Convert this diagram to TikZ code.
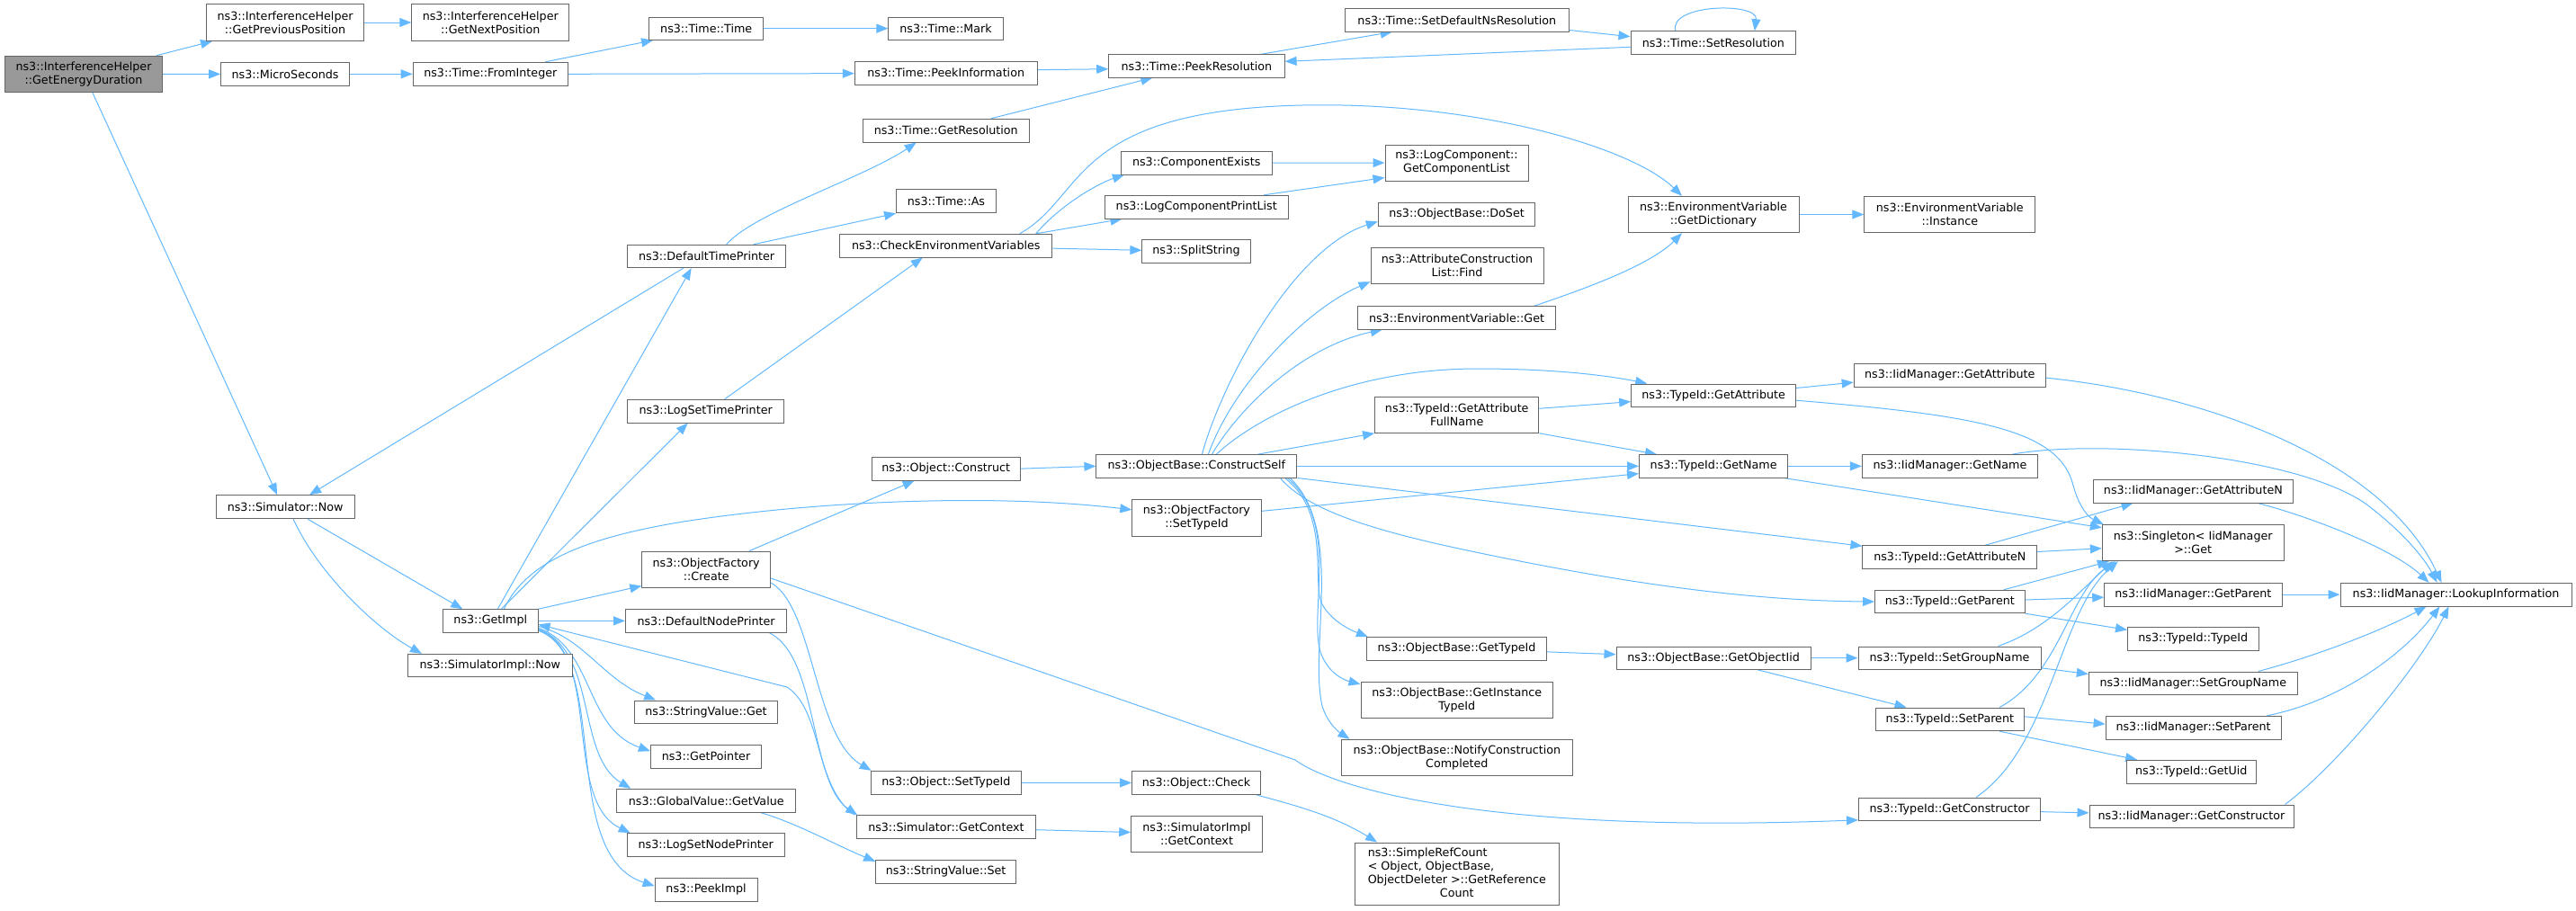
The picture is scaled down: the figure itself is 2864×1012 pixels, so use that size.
\documentclass[tikz,border=0pt]{standalone}
\usepackage{fontspec}
\setmainfont{DejaVu Sans}
\usetikzlibrary{arrows.meta,calc}
\definecolor{edgeblue}{HTML}{63B8FF}
\definecolor{bordergrey}{HTML}{666666}
\definecolor{fillgrey}{HTML}{999999}
\pgfdeclarelayer{bg}
\pgfsetlayers{bg,main}
\newcommand\mynode[6]{\node[box, minimum width={(#3-#2)*1pt}, minimum height={(#5-#4)*1pt}] (#1) at ({(#2+#3)/2},{(#4+#5)/2}) {#6};}
\begin{document}
\begin{tikzpicture}[x=1pt,y=-1pt,
  box/.style={draw=bordergrey, fill=white, line width=1pt, inner sep=0pt, align=center, font=\fontsize{12.7}{15}\selectfont},
  callarrow/.style={draw=edgeblue, line width=1pt, -{Triangle[length=13pt,width=10pt]}}]
\useasboundingbox (0,0) rectangle (2864,1012);
% nodes
\node[box, fill=fillgrey, minimum width=175pt, minimum height=40.4pt] (ged) at (93,82.5) {ns3::InterferenceHelper\\::GetEnergyDuration};
\mynode{gpp}{229.6}{404.6}{4.7}{45.3}{ns3::InterferenceHelper\\::GetPreviousPosition}
\mynode{gnp}{457.8}{632.8}{4.7}{45.3}{ns3::InterferenceHelper\\::GetNextPosition}
\mynode{micro}{245.7}{388.5}{69.3}{95.3}{ns3::MicroSeconds}
\mynode{fromint}{459.2}{631.4}{69.3}{95.3}{ns3::Time::FromInteger}
\mynode{ttime}{721.6}{848.8}{19}{44.3}{ns3::Time::Time}
\mynode{tmark}{987.9}{1115.1}{19}{44.3}{ns3::Time::Mark}
\mynode{peekinfo}{950.3}{1153.2}{68.3}{94}{ns3::Time::PeekInformation}
\mynode{peekres}{1232.7}{1428.1}{60.7}{86}{ns3::Time::PeekResolution}
\mynode{setdef}{1495.5}{1744.1}{9.7}{35}{ns3::Time::SetDefaultNsResolution}
\mynode{setres}{1813}{1996.7}{34.7}{60.7}{ns3::Time::SetResolution}
\mynode{getres}{959}{1144.5}{132.3}{158}{ns3::Time::GetResolution}
\mynode{tas}{996.6}{1107.3}{210.7}{236.7}{ns3::Time::As}
\mynode{dtp}{697.7}{873.6}{272.3}{297.7}{ns3::DefaultTimePrinter}
\mynode{cev}{933.7}{1169.8}{260.3}{286}{ns3::CheckEnvironmentVariables}
\mynode{compex}{1246.4}{1414}{168.3}{194}{ns3::ComponentExists}
\mynode{lcpl}{1228}{1432.5}{217.3}{243}{ns3::LogComponentPrintList}
\mynode{split}{1269.9}{1390.2}{266.3}{292.3}{ns3::SplitString}
\mynode{gcl}{1540}{1699}{161}{201}{ns3::LogComponent::\\GetComponentList}
\mynode{gdict}{1810}{2000}{218.3}{258.7}{ns3::EnvironmentVariable\\::GetDictionary}
\mynode{inst}{2072.8}{2262.8}{218.3}{258.7}{ns3::EnvironmentVariable\\::Instance}
\mynode{doset}{1532.3}{1706.8}{225.7}{251}{ns3::ObjectBase::DoSet}
\mynode{acfind}{1524}{1716}{275.7}{315.7}{ns3::AttributeConstruction\\List::Find}
\mynode{envget}{1509.3}{1729.7}{340.7}{366}{ns3::EnvironmentVariable::Get}
\mynode{lstp}{697.7}{871.7}{444.3}{470}{ns3::LogSetTimePrinter}
\mynode{simnow}{240.2}{394}{550.7}{576.7}{ns3::Simulator::Now}
\mynode{oconstruct}{969}{1134.4}{508.3}{534}{ns3::Object::Construct}
\mynode{cself}{1218.9}{1441.8}{505.7}{531}{ns3::ObjectBase::ConstructSelf}
\mynode{ofsettid}{1258.8}{1402.1}{555.7}{596}{ns3::ObjectFactory\\::SetTypeId}
\mynode{ofcreate}{713.8}{856.6}{613}{653}{ns3::ObjectFactory\\::Create}
\mynode{gafn}{1528.6}{1710.9}{441}{481.3}{ns3::TypeId::GetAttribute\\FullName}
\mynode{tgattr}{1813.7}{1996.5}{427}{452.7}{ns3::TypeId::GetAttribute}
\mynode{igattr}{2061.2}{2274.4}{404.3}{430}{ns3::IidManager::GetAttribute}
\mynode{tgname}{1822.5}{1987.8}{505.7}{531}{ns3::TypeId::GetName}
\mynode{igname}{2070.4}{2265.6}{505.7}{531}{ns3::IidManager::GetName}
\mynode{igattrn}{2327}{2549.7}{533.7}{559}{ns3::IidManager::GetAttributeN}
\mynode{single}{2337.3}{2539}{583.7}{623.7}{ns3::Singleton< IidManager\\>::Get}
\mynode{tgattrn}{2070.9}{2264.7}{606.7}{632.3}{ns3::TypeId::GetAttributeN}
\mynode{tgparent}{2084.5}{2251.1}{656.3}{681.7}{ns3::TypeId::GetParent}
\mynode{igparent}{2339.7}{2537}{648.3}{674}{ns3::IidManager::GetParent}
\mynode{lookup}{2602}{2859}{648.3}{674}{ns3::IidManager::LookupInformation}
\mynode{ttypeid}{2365.5}{2511}{697.7}{723}{ns3::TypeId::TypeId}
\mynode{getimpl}{492.5}{598.1}{677.7}{703}{ns3::GetImpl}
\mynode{simimplnow}{453.5}{636.2}{727.3}{752.7}{ns3::SimulatorImpl::Now}
\mynode{dnp}{695.5}{874.6}{677.7}{703}{ns3::DefaultNodePrinter}
\mynode{svget}{705.6}{864.5}{779}{804.7}{ns3::StringValue::Get}
\mynode{getptr}{723.5}{846.5}{828.3}{854}{ns3::GetPointer}
\mynode{gvget}{685.8}{884.7}{877.3}{903.3}{ns3::GlobalValue::GetValue}
\mynode{lsnp}{697.3}{872.3}{926.7}{952.7}{ns3::LogSetNodePrinter}
\mynode{peekimpl}{728.1}{842}{976.3}{1002}{ns3::PeekImpl}
\mynode{osettid}{968.2}{1135.6}{857.3}{883.3}{ns3::Object::SetTypeId}
\mynode{simgctx}{952.6}{1151.2}{906.7}{932.7}{ns3::Simulator::GetContext}
\mynode{svset}{973.7}{1129.6}{956.3}{982}{ns3::StringValue::Set}
\mynode{ocheck}{1258.6}{1401.4}{857.7}{883.3}{ns3::Object::Check}
\mynode{simimplgctx}{1257.7}{1403.3}{907.3}{947.7}{ns3::SimulatorImpl\\::GetContext}
\mynode{src}{1506.6}{1733}{937}{1006.7}{\begin{tabular}{@{}l@{}}ns3::SimpleRefCount\\< Object, ObjectBase,\\ObjectDeleter >::GetReference\\\multicolumn{1}{@{}c@{}}{Count}\end{tabular}}
\mynode{obgettid}{1519.4}{1719.7}{708.7}{734}{ns3::ObjectBase::GetTypeId}
\mynode{obgitid}{1513}{1726.5}{758.3}{798.7}{ns3::ObjectBase::GetInstance\\TypeId}
\mynode{obncc}{1491}{1748.6}{822.3}{862.3}{ns3::ObjectBase::NotifyConstruction\\Completed}
\mynode{obgoid}{1797}{2013.3}{719}{744.3}{ns3::ObjectBase::GetObjectIid}
\mynode{tsgn}{2066}{2269}{719}{744.3}{ns3::TypeId::SetGroupName}
\mynode{tsetparent}{2085}{2250.7}{787}{812.7}{ns3::TypeId::SetParent}
\mynode{tgctor}{2066.5}{2268.6}{887}{912.3}{ns3::TypeId::GetConstructor}
\mynode{isgn}{2322.3}{2554.3}{747}{772.7}{ns3::IidManager::SetGroupName}
\mynode{isetparent}{2341.1}{2536}{796.3}{822}{ns3::IidManager::SetParent}
\mynode{tgetuid}{2364.6}{2508}{845.3}{871}{ns3::TypeId::GetUid}
\mynode{igctor}{2323}{2550}{895}{920.7}{ns3::IidManager::GetConstructor}
% edges
\begin{pgfonlayer}{bg}
\draw[callarrow] (ged) -- (gpp);
\draw[callarrow] (ged) -- (micro);
\draw[callarrow] ($(ged.south)+(10,0)$) -- ($(simnow.north)+(-9,0)$);
\draw[callarrow] (gpp) -- (gnp);
\draw[callarrow] (micro) -- (fromint);
\draw[callarrow] ($(fromint.north)+(61,0)$) -- ($(ttime.south west)+(5,0)$);
\draw[callarrow] (fromint.east) -- ($(peekinfo.west)+(0,0.5)$);
\draw[callarrow] (ttime) -- (tmark);
\draw[callarrow] ($(peekinfo.east)+(0,-3.5)$) -- ($(peekres.west)+(0,3.4)$);
\draw[callarrow] ($(peekres.north)+(72,0)$) -- ($(setdef.south)+(-72,0)$);
\draw[callarrow] ($(setdef.south east)+(0,-2)$) -- ($(setres.west)+(0,-7)$);
\draw[callarrow] ($(setres.west)+(0,4.6)$) -- ($(peekres.east)+(0,-5)$);
\draw[callarrow] ($(setres.north)+(-42,0)$) .. controls ($(setres.north)+(-50,-30)$) and ($(setres.north)+(50,-32)$) .. ($(setres.north)+(46,0)$);
\draw[callarrow] ($(getres.north)+(50,0)$) -- ($(peekres.south)+(-49,0)$);
\draw[callarrow] ($(dtp.north)+(22,0)$) .. controls +(30,-35) and +(-60,40) .. ($(getres.south)+(-33,0)$);
\draw[callarrow] ($(dtp.north)+(52,0)$) -- (tas.south west);
\draw[callarrow] ($(dtp.south)+(-26,0)$) -- ($(simnow.north)+(27,0)$);
\draw[callarrow] ($(getimpl.north)+(8,0)$) -- ($(dtp.south)+(-17,0)$);
\draw[callarrow] ($(getimpl.north)+(12,0)$) -- ($(lstp.south)+(-20,0)$);
\draw[callarrow] ($(lstp.north)+(21,0)$) -- ($(cev.south)+(-26,0)$);
\draw[callarrow] ($(cev.north)+(100,0)$) .. controls +(30,-35) and +(-25,8) .. ($(compex.south west)+(4,0)$);
\draw[callarrow] ($(cev.north)+(100,0)$) -- ($(lcpl.south west)+(20,0)$);
\draw[callarrow] ($(cev.east)+(0,3)$) -- ($(split.west)+(0,-1)$);
\draw[callarrow] ($(cev.north)+(82,0)$) .. controls (1205,220) and (1190,130) .. (1420,118) .. controls (1620,108) and (1810,160) .. ($(gdict.north)+(-35,0)$);
\draw[callarrow] (compex) -- (gcl);
\draw[callarrow] ($(lcpl.north)+(75,0)$) -- ($(gcl.south west)+(0,-4)$);
\draw[callarrow] (gdict) -- (inst);
\draw[callarrow] ($(envget.north)+(86,0)$) .. controls +(60,-20) and +(-35,35) .. ($(gdict.south)+(-35,0)$);
\draw[callarrow] ($(ofsettid.east)+(0,-7.5)$) -- ($(tgname.west)+(0,8.3)$);
\draw[callarrow] (oconstruct.east) -- (cself.west);
\draw[callarrow] ($(ofcreate.north)+(48,0)$) -- ($(oconstruct.south)+(-35,0)$);
\draw[callarrow] (getimpl.north east) -- ($(ofcreate.south west)+(0,-2)$);
\draw[callarrow] ($(getimpl.north)+(15,0)$) .. controls (585,625) and (650,598) .. (760,580) .. controls (900,558) and (1100,548) .. ($(ofsettid.west)+(0,-9)$);
\draw[callarrow] (getimpl) -- (dnp);
\draw[callarrow] ($(getimpl.east)+(0,6)$) .. controls (650,710) and (670,755) .. ($(svget.north west)+(24,0)$);
\draw[callarrow] ($(getimpl.east)+(0,8)$) .. controls (660,720) and (650,810) .. ($(getptr.west)+(0,-6)$);
\draw[callarrow] ($(getimpl.east)+(0,9)$) .. controls (665,725) and (640,840) .. ($(gvget.north west)+(16,0)$);
\draw[callarrow] ($(getimpl.east)+(0,10)$) .. controls (670,725) and (625,890) .. ($(lsnp.north west)+(4,0)$);
\draw[callarrow] ($(getimpl.east)+(0,11)$) .. controls (680,730) and (620,950) .. ($(peekimpl.west)+(0,-4)$);
\draw[callarrow] ($(simgctx.north west)+(-2,0)$) .. controls (905,875) and (915,790) .. (875,764) -- ($(getimpl.east)+(0,4)$);
\draw[callarrow] ($(ofcreate.east)+(0,15)$) .. controls (905,675) and (905,820) .. ($(osettid.north west)+(1,0)$);
\draw[callarrow] ($(dnp.south)+(70,0)$) .. controls (910,730) and (900,870) .. ($(simgctx.north west)+(1,0)$);
\draw[callarrow] ($(ofcreate.east)+(0,10)$) -- (1440,845) .. controls (1480,875) and (1650,928) .. ($(tgctor.south west)+(0,-1)$);
\draw[callarrow] ($(gvget.south)+(61,0)$) .. controls (885,915) and (930,940) .. ($(svset.north west)+(0,2)$);
\draw[callarrow] (osettid) -- (ocheck);
\draw[callarrow] ($(simgctx.east)+(0,3)$) -- ($(simimplgctx.west)+(0,-2)$);
\draw[callarrow] ($(ocheck.south east)+(-5,0)$) .. controls (1430,893) and (1480,905) .. ($(src.north west)+(25,0)$);
\draw[callarrow] ($(simnow.south)+(25,0)$) -- ($(getimpl.north)+(-31,0)$);
\draw[callarrow] ($(simnow.south)+(9,0)$) .. controls (355,640) and (420,700) .. ($(simimplnow.north west)+(16,0)$);
% ConstructSelf
\draw[callarrow] ($(cself.north)+(6,0)$) .. controls (1360,420) and (1440,275) .. ($(doset.west)+(0,8)$);
\draw[callarrow] ($(cself.north)+(13,0)$) .. controls (1370,430) and (1450,345) .. ($(acfind.south west)+(0,-3)$);
\draw[callarrow] ($(cself.north)+(17,0)$) .. controls (1380,450) and (1450,385) .. ($(envget.south west)+(28,0)$);
\draw[callarrow] ($(cself.north)+(22,0)$) .. controls (1395,465) and (1500,410) .. (1643,410) .. controls (1730,410) and (1790,418) .. ($(tgattr.north west)+(18,0)$);
\draw[callarrow] ($(cself.north east)+(-44,0)$) -- (gafn.south west);
\draw[callarrow] (cself) -- (tgname);
\draw[callarrow] (cself.south east) -- ($(tgattrn.north west)+(0,1)$);
\draw[callarrow] ($(cself.south east)+(-19,0)$) .. controls (1460,575) and (1560,598) .. (1680,622) .. controls (1820,650) and (1950,668) .. (tgparent.west);
\draw[callarrow] ($(cself.south east)+(-14,0)$) .. controls (1480,570) and (1458,650) .. (1470,672) .. controls (1480,690) and (1500,700) .. ($(obgettid.north west)+(2,0)$);
\draw[callarrow] ($(cself.south east)+(-11,0)$) .. controls (1490,580) and (1455,680) .. (1468,725) .. controls (1475,745) and (1490,755) .. ($(obgitid.north west)+(0,3)$);
\draw[callarrow] ($(cself.south east)+(-8,0)$) .. controls (1495,590) and (1455,720) .. (1470,785) .. controls (1476,805) and (1490,815) .. ($(obncc.north west)+(10,0)$);
% TypeId
\draw[callarrow] ($(gafn.east)+(0,-6.9)$) -- ($(tgattr.west)+(0,6.8)$);
\draw[callarrow] (gafn.south east) -- ($(tgname.north west)+(20,0)$);
\draw[callarrow] ($(tgattr.north east)+(0,5)$) -- ($(igattr.west)+(0,8)$);
\draw[callarrow] ($(tgattr.south east)+(0,-8)$) .. controls (2200,462) and (2290,478) .. (2305,540) .. controls (2312,565) and (2322,575) .. ($(single.north west)+(2,0)$);
\draw[callarrow] ($(igattr.east)+(0,3)$) .. controls (2450,438) and (2650,510) .. ($(lookup.north)+(-16,0)$);
\draw[callarrow] (tgname) -- (igname);
\draw[callarrow] ($(tgname.south east)+(-5,0)$) -- ($(single.west)+(0,-17)$);
\draw[callarrow] ($(igname.north east)+(-29,0)$) .. controls (2330,488) and (2550,505) .. (2630,560) .. controls (2670,590) and (2695,620) .. ($(lookup.north)+(-21,0)$);
\draw[callarrow] ($(igattrn.south east)+(-40,0)$) .. controls (2570,575) and (2660,610) .. ($(lookup.north)+(-30,0)$);
\draw[callarrow] ($(tgattrn.north east)+(-58,0)$) -- ($(igattrn.south west)+(45,0)$);
\draw[callarrow] ($(tgattrn.east)+(0,-6)$) -- ($(single.west)+(0,6)$);
\draw[callarrow] ($(tgparent.north east)+(-24,0)$) -- ($(single.south west)+(8,0)$);
\draw[callarrow] ($(tgparent.east)+(0,-2)$) -- ($(igparent.west)+(0,3)$);
\draw[callarrow] (tgparent.south east) -- ($(ttypeid.west)+(0,-10)$);
\draw[callarrow] (igparent) -- (lookup);
\draw[callarrow] ($(obgettid.east)+(0,3.5)$) -- ($(obgoid.west)+(0,-4)$);
\draw[callarrow] (obgoid) -- (tsgn);
\draw[callarrow] ($(obgoid.south)+(49,0)$) -- ($(tsetparent.north west)+(35,0)$);
\draw[callarrow] ($(tsgn.north east)+(-48,0)$) .. controls (2275,700) and (2310,660) .. ($(single.south west)+(12,0)$);
\draw[callarrow] ($(tsgn.south east)+(0,-2)$) -- ($(isgn.north west)+(0,3)$);
\draw[callarrow] ($(tsetparent.north east)+(-28,0)$) .. controls (2290,750) and (2300,660) .. ($(single.south west)+(15,0)$);
\draw[callarrow] ($(tsetparent.east)+(0,-3)$) -- ($(isetparent.west)+(0,-4)$);
\draw[callarrow] ($(tsetparent.south east)+(-28,0)$) -- ($(tgetuid.north west)+(12,0)$);
\draw[callarrow] ($(tgctor.north)+(29.5,0)$) .. controls (2280,830) and (2290,680) .. ($(single.south west)+(18,0)$);
\draw[callarrow] ($(tgctor.east)+(0,3)$) -- ($(igctor.west)+(0,-4)$);
\draw[callarrow] ($(isgn.north east)+(-44,0)$) .. controls (2580,728) and (2650,700) .. ($(lookup.south)+(-33,0)$);
\draw[callarrow] ($(isetparent.north east)+(-16,0)$) .. controls (2600,780) and (2670,730) .. ($(lookup.south)+(-18,0)$);
\draw[callarrow] ($(igctor.north east)+(-10,0)$) .. controls (2600,850) and (2690,740) .. ($(lookup.south)+(-8,0)$);
\end{pgfonlayer}
\end{tikzpicture}
\end{document}
